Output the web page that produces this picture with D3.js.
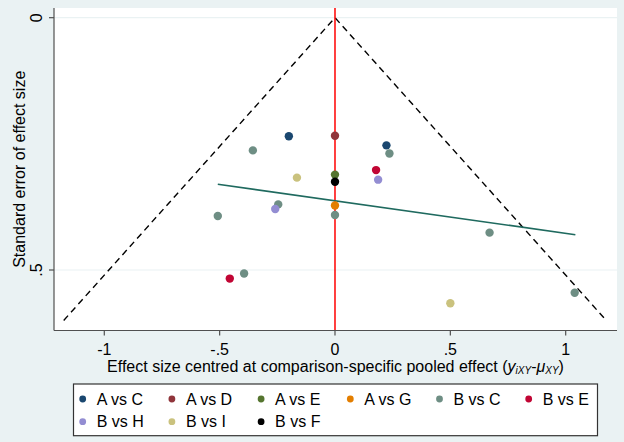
<!DOCTYPE html>
<html><head><meta charset="utf-8">
<script src="https://cdn.jsdelivr.net/npm/d3@7"></script>
<style>body{margin:0;background:#eaf2f3;} svg{display:block;}</style>
</head><body>
<svg id="c" width="624" height="442"></svg>
<script>
// ---- data ----
const groups = ["A vs C","A vs D","A vs E","A vs G","B vs C","B vs E","B vs H","B vs I","B vs F"];
const groupColors = ["#1a476f","#90353b","#55752f","#e37e00","#6e8e84","#c10534","#938dd2","#cac27e","#000000"];
// effect size centred (x) and standard error (se) per group
const effA_C = [-0.200, 0.223], seA_C = [0.235, 0.253];
const effA_D = [0.000], seA_D = [0.234];
const effA_E = [0.000], seA_E = [0.311];
const effA_G = [0.000], seA_G = [0.372];
const effB_C = [-0.356, -0.246, -0.508, -0.394, 0.236, 0.000, 0.670, 1.039];
const seB_C  = [0.263, 0.370, 0.393, 0.507, 0.269, 0.391, 0.426, 0.545];
const effB_E = [-0.456, 0.178], seB_E = [0.517, 0.302];
const effB_H = [-0.259, 0.187], seB_H = [0.379, 0.321];
const effB_I = [-0.165, 0.500], seB_I = [0.317, 0.566];
const effB_F = [0.000], seB_F = [0.325];
const groupEff = [effA_C, effA_D, effA_E, effA_G, effB_C, effB_E, effB_H, effB_I, effB_F];
const groupSE  = [seA_C, seA_D, seA_E, seA_G, seB_C, seB_E, seB_H, seB_I, seB_F];
// funnel (pseudo 95% limits) and fitted line
const funnelX = [-1.176, 0, 1.176], funnelY = [0.6, 0, 0.6];
const fitX = [-0.508, 1.042], fitY = [0.330, 0.430];
const xTicks = [-1, -0.5, 0, 0.5, 1], xTickLabels = ["-1", "-.5", "0", ".5", "1"];
const yTicks = [0, 0.5], yTickLabels = ["0", ".5"];

// ---- layout ----
const svg = d3.select("#c");
const font = "'Liberation Sans', Arial, sans-serif";
const L = 54, R = 617, T = 8, B = 330.5;
const x = d3.scaleLinear().domain([-1.218, 1.2224]).range([L, R]);
const y = d3.scaleLinear().domain([-0.0192, 0.6199]).range([T, B]);

svg.append("rect").attr("width", 624).attr("height", 442).attr("fill", "#eaf2f3");
svg.append("rect").attr("x", L).attr("y", T).attr("width", R - L).attr("height", B - T).attr("fill", "#ffffff");

// gridlines
svg.append("g").selectAll("line").data(yTicks).join("line")
  .attr("x1", L).attr("x2", R).attr("y1", d => y(d)).attr("y2", d => y(d))
  .attr("stroke", "#eaf2f3").attr("stroke-width", 1.2);

// funnel
svg.append("path").datum(funnelX.map((v, i) => [v, funnelY[i]]))
  .attr("d", d3.line().x(d => x(d[0])).y(d => y(d[1])))
  .attr("fill", "none").attr("stroke", "#000").attr("stroke-width", 1.4)
  .attr("stroke-dasharray", "6.5,4.5");

// red zero line
svg.append("line").attr("x1", x(0)).attr("x2", x(0)).attr("y1", T).attr("y2", B)
  .attr("stroke", "#ff0000").attr("stroke-width", 1.5);

// fitted line
svg.append("path").datum(fitX.map((v, i) => [v, fitY[i]]))
  .attr("d", d3.line().x(d => x(d[0])).y(d => y(d[1])))
  .attr("fill", "none").attr("stroke", "#1f6a5f").attr("stroke-width", 1.6);

// points
groups.forEach((g, gi) => {
  const pts = groupEff[gi].map((v, i) => [v, groupSE[gi][i]]);
  svg.append("g").selectAll("circle").data(pts).join("circle")
    .attr("cx", d => x(d[0])).attr("cy", d => y(d[1])).attr("r", 4.2)
    .attr("fill", groupColors[gi]);
});

// axes
const axisColor = "#505050";
svg.append("line").attr("x1", L).attr("x2", L).attr("y1", T).attr("y2", B).attr("stroke", axisColor).attr("stroke-width", 1.2);
svg.append("line").attr("x1", L).attr("x2", R).attr("y1", B).attr("y2", B).attr("stroke", axisColor).attr("stroke-width", 1.2);

const xg = svg.append("g");
xTicks.forEach((t, i) => {
  xg.append("line").attr("x1", x(t)).attr("x2", x(t)).attr("y1", B).attr("y2", B + 5).attr("stroke", axisColor).attr("stroke-width", 1.2);
  xg.append("text").attr("x", x(t)).attr("y", 355).attr("text-anchor", "middle")
    .attr("font-family", font).attr("font-size", 16).attr("fill", "#000").text(xTickLabels[i]);
});
const yg = svg.append("g");
yTicks.forEach((t, i) => {
  yg.append("line").attr("x1", L - 5).attr("x2", L).attr("y1", y(t)).attr("y2", y(t)).attr("stroke", axisColor).attr("stroke-width", 1.2);
  yg.append("text").attr("transform", `translate(41.5,${y(t)}) rotate(-90)`).attr("text-anchor", "middle")
    .attr("font-family", font).attr("font-size", 16).attr("fill", "#000").text(yTickLabels[i]);
});

// axis titles
svg.append("text").attr("transform", `translate(25,${(T + B) / 2}) rotate(-90)`).attr("text-anchor", "middle")
  .attr("font-family", font).attr("font-size", 16).attr("fill", "#000").text("Standard error of effect size");

const xt = svg.append("text").attr("x", (L + R) / 2).attr("y", 371.5).attr("text-anchor", "middle")
  .attr("font-family", font).attr("font-size", 16).attr("fill", "#000");
xt.append("tspan").text("Effect size centred at comparison-specific pooled effect (");
xt.append("tspan").attr("font-style", "italic").text("y");
xt.append("tspan").attr("font-style", "italic").attr("font-size", 10).attr("dy", 2).text("iXY");
xt.append("tspan").attr("dy", -2).text("-");
xt.append("tspan").attr("font-style", "italic").text("μ");
xt.append("tspan").attr("font-style", "italic").attr("font-size", 10).attr("dy", 2).text("XY");
xt.append("tspan").attr("dy", -2).text(")");

// legend
svg.append("rect").attr("x", 73.5).attr("y", 384).attr("width", 524).attr("height", 51.7)
  .attr("fill", "#ffffff").attr("stroke", "#333").attr("stroke-width", 1.2);
const lg = svg.append("g").selectAll("g").data(groups).join("g")
  .attr("transform", (d, i) => `translate(${82.7 + (i % 6) * 89.2},${i < 6 ? 399 : 421.7})`);
lg.append("circle").attr("r", 3.4).attr("fill", (d, i) => groupColors[i]);
lg.append("text").attr("x", 14).attr("y", 5.6).attr("font-family", font).attr("font-size", 16)
  .attr("fill", "#000").text(d => d);
</script>
</body></html>
